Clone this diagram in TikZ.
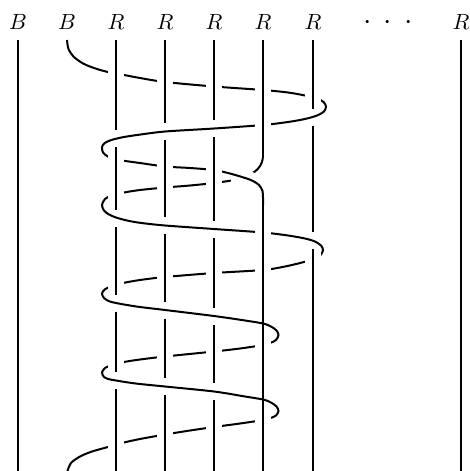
\documentclass[tikz,border=0pt]{standalone}
\begin{document}
\begin{tikzpicture}[x=1pt,y=-1pt,
  strand/.style={line width=2pt, black},
  halo/.style={preaction={draw=white, line width=16pt}},
  lbl/.style={scale=2.2, inner sep=0pt}]
\useasboundingbox (0,0) rectangle (470,471);

% labels
\node[lbl] (lb1) at (18,21.6) {$B$};
\node[lbl] (lb2) at (67,21.6) {$B$};
\node[lbl] (lr1) at (116,21.6) {$R$};
\node[lbl] (lr2) at (165,21.6) {$R$};
\node[lbl] (lr3) at (214,21.6) {$R$};
\node[lbl] (lr4) at (263,21.6) {$R$};
\node[lbl] (lr5) at (313,21.6) {$R$};
\node[scale=3, inner sep=0pt] (ldots) at (388,22.6) {$\cdotp\mkern4.3mu\cdotp\mkern4.3mu\cdotp$};
\node[lbl] (lrn) at (461,21.6) {$R$};

% outer straight strands
\draw[strand] (18,40) -- (18,471);
\draw[strand] (461,40) -- (461,471);

% strand Q (R strand at 263 that winds down to the bottom left)
\draw[strand] (263,40) -- (263,151);
\draw[strand] plot[smooth,tension=0.5] coordinates {
 (263,150) (262.5,160) (260,166) (255,171.5) (245,176.5) (234,180) (214,183)
 (190,185.5) (165,187.5) (140,190) (124,192.5) (112,195.2) (105,199) (102,205)
 (104,210.5) (109,214.5) (116,217.5) (127,220.5) (140,222.8) (165,225.5)
 (214,229) (263,232.5) (288,235.5) (305,238.5) (315,241.5) (321,245.5) (323,250)
 (320.5,255) (313,259) (302,262.5) (285,266.5) (263,270) (214,273) (165,277)
 (140,280) (124,282.8) (112,286) (105,289.3) (102,293.5) (104,298) (109,301.2)
 (116,303) (127,305) (140,307) (165,310) (214,316) (245,320.5) (263,323.5)
 (271,326.5) (276.5,330.5) (278.5,335) (276,340) (270,343) (260,345.5)
 (240,348.5) (214,351.5) (165,356.5) (140,359.5) (124,362) (112,365) (105,368)
 (102,372.5) (104,377) (109,379.2) (116,380.5) (127,382.3) (140,384) (165,386.5)
 (214,391.5) (245,396.5) (263,399.5) (271,402.5) (276.5,406.5) (278.5,411)
 (276,415.5) (270,418.2) (260,420.5) (240,423.5) (214,427) (190,430.5)
 (165,434.5) (140,439) (124,442.5) (108,447) (92,451.5) (80,456.5) (71,463)
 (67.5,471)};

% strand P (B strand that winds once and becomes the strand at 263)
\draw[strand] plot[smooth,tension=0.5] coordinates {
 (67,40) (68.5,49) (74,57) (84,64) (97,69) (110,72.5) (124,75) (140,78) (165,82)
 (214,86.5) (263,90) (288,92.5) (305,95.5) (317,98.5) (323.5,102) (326,106.5)
 (324,111.5) (317,115.5) (305,119) (288,122) (263,125) (214,128.5) (165,131.5)
 (140,134.6) (124,137) (112,139.8) (105,142.8) (102,147) (103,152.5)
 (107.5,156.3) (114,158.8) (124,160.8) (140,163) (165,166.5) (190,168)
 (214,170) (228,173) (242,177) (252,180.5) (259,185) (262.5,191) (263,198)
 (263,205)};
\draw[strand] (263,204) -- (263,471);

% P passes over Q where they meet
\begin{scope}
\clip (231,166) rectangle (257,189);
\draw[strand,halo] plot[smooth,tension=0.5] coordinates {
 (165,166.5) (190,168) (214,170) (228,173) (242,177) (252,180.5) (259,185)
 (262.5,191) (263,198) (263,205)};
\end{scope}

% vertical strands, broken where the helix passes in front
\draw[strand,halo] (116,40) -- (116,130);
\draw[strand,halo] (116,147) -- (116,209.5);
\draw[strand,halo] (116,226.5) -- (116,294.5);
\draw[strand,halo] (116,311.5) -- (116,372);
\draw[strand,halo] (116,389) -- (116,471);

\draw[strand,halo] (165,40) -- (165,123);
\draw[strand,halo] (165,140) -- (165,217);
\draw[strand,halo] (165,234) -- (165,301.5);
\draw[strand,halo] (165,318.5) -- (165,378);
\draw[strand,halo] (165,395) -- (165,471);

\draw[strand,halo] (214,40) -- (214,120);
\draw[strand,halo] (214,137) -- (214,220.5);
\draw[strand,halo] (214,237.5) -- (214,307.5);
\draw[strand,halo] (214,324.5) -- (214,383);
\draw[strand,halo] (214,400) -- (214,471);

\draw[strand,halo] (263,40) -- (263,158);
\draw[strand,halo] (263,207) -- (263,315);
\draw[strand,halo] (263,332) -- (263,391);
\draw[strand,halo] (263,408) -- (263,471);

\draw[strand,halo] (313,40) -- (313,108.5);
\draw[strand,halo] (313,125.5) -- (313,231.5);
\draw[strand,halo] (313,248.5) -- (313,471);
\end{tikzpicture}
\end{document}
